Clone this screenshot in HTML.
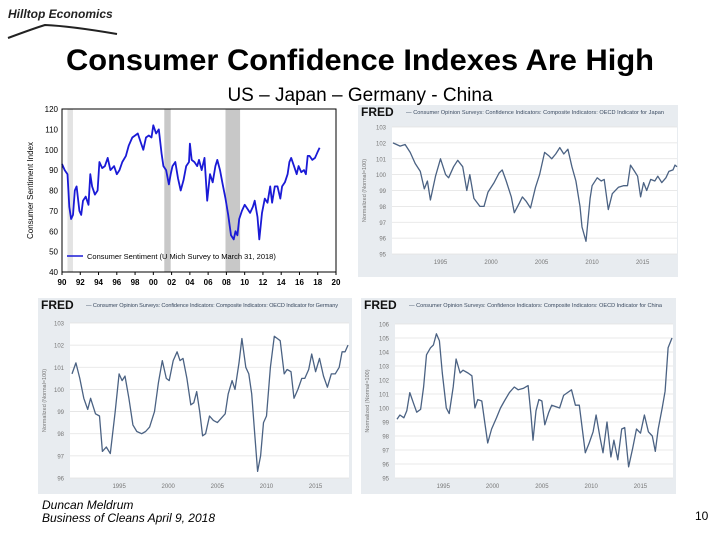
<!DOCTYPE html>
<html><head><meta charset="utf-8"><style>
body{margin:0;width:720px;height:540px;background:#fff;overflow:hidden;font-family:"Liberation Sans",sans-serif}
svg{position:absolute;left:0;top:0}
</style></head><body>
<svg id="s" width="720" height="540" viewBox="0 0 720 540">
<text x="8" y="18" font-size="12" font-weight="bold" font-style="italic" fill="#222">Hilltop Economics</text>
<path d="M8 38 Q35 28 45 25 Q70 26 117 34" stroke="#222" stroke-width="2" fill="none"/>
<text x="360" y="70" font-size="30" font-weight="bold" text-anchor="middle" fill="#000" textLength="588" lengthAdjust="spacingAndGlyphs">Consumer Confidence Indexes Are High</text>
<text x="360" y="101" font-size="19" text-anchor="middle" fill="#000">US – Japan – Germany - China</text>
<text x="42" y="509" font-size="12" font-style="italic" fill="#000">Duncan Meldrum</text>
<text x="42" y="522" font-size="12" font-style="italic" fill="#000">Business of Cleans April 9, 2018</text>
<text x="695" y="520" font-size="12" fill="#000">10</text>
</svg>
<script>
const usYears=[1990.0,1990.3,1990.6,1990.8,1991.0,1991.2,1991.4,1991.6,1991.9,1992.1,1992.3,1992.6,1992.9,1993.1,1993.3,1993.6,1993.9,1994.1,1994.4,1994.7,1995.0,1995.3,1995.7,1996.0,1996.3,1996.6,1997.0,1997.3,1997.7,1998.0,1998.3,1998.6,1998.9,1999.2,1999.5,1999.8,2000.0,2000.3,2000.6,2000.9,2001.1,2001.4,2001.7,2001.9,2002.1,2002.4,2002.7,2003.0,2003.3,2003.6,2003.9,2004.0,2004.2,2004.5,2004.8,2005.0,2005.3,2005.6,2005.9,2006.2,2006.5,2006.8,2007.0,2007.3,2007.6,2007.9,2008.2,2008.5,2008.8,2009.0,2009.2,2009.4,2009.7,2010.0,2010.3,2010.6,2010.9,2011.1,2011.4,2011.6,2011.9,2012.2,2012.5,2012.8,2013.0,2013.3,2013.6,2013.9,2014.1,2014.4,2014.7,2014.9,2015.1,2015.4,2015.7,2015.9,2016.2,2016.5,2016.7,2016.9,2017.1,2017.4,2017.7,2017.9,2018.0,2018.2];
const usValues=[93,90,88,72,66,68,80,82,70,68,75,77,73,88,82,78,80,94,91,92,96,90,92,88,90,94,97,102,106,107,108,104,100,106,107,106,112,108,110,98,92,90,83,88,92,94,86,80,85,92,94,103,95,94,92,95,90,96,75,88,84,92,95,90,83,76,68,58,56,60,58,66,70,73,71,69,72,75,67,56,69,76,74,82,74,82,82,76,82,84,88,94,96,92,88,92,89,90,88,97,97,95,96,98,99,101];
const usTicksY=[40,50,60,70,80,90,100,110,120];
const usTicksX=["90","92","94","96","98","00","02","04","06","08","10","12","14","16","18","20"];
const recessions=[[1990.6,1991.2],[2001.2,2001.9],[2007.9,2009.5]];

const jpYears=[1990.3,1991,1991.5,1992,1992.5,1993,1993.4,1993.7,1994,1994.5,1995,1995.5,1995.8,1996.3,1996.7,1997.2,1997.6,1997.9,1998.3,1998.9,1999.3,1999.7,2000.3,2000.8,2001.1,2001.5,2002,2002.3,2002.8,2003.1,2003.5,2003.9,2004.4,2004.8,2005.3,2005.7,2006.0,2006.4,2006.8,2007.2,2007.6,2008.0,2008.4,2008.8,2009.0,2009.4,2009.8,2010.0,2010.5,2010.9,2011.2,2011.6,2012.0,2012.6,2013.1,2013.5,2013.8,2014.2,2014.5,2014.8,2015.1,2015.4,2015.8,2016.2,2016.5,2016.9,2017.3,2017.6,2018.0,2018.2,2018.4];
const jpValues=[102.0,101.8,101.9,101.4,100.7,100.2,99.1,99.6,98.4,99.9,101.0,100.0,99.8,100.5,100.9,100.5,99.0,100.0,98.5,98.0,98.0,98.9,99.5,100.1,100.3,99.6,98.6,97.6,98.2,98.6,98.3,97.9,99.2,100.0,101.4,101.2,101.0,101.3,101.7,101.3,101.6,100.5,99.6,98.0,96.7,95.8,98.5,99.3,99.8,99.6,99.7,97.8,98.8,99.2,99.3,99.3,100.6,100.2,99.9,98.6,99.5,99.0,99.7,99.6,99.9,99.5,99.8,100.2,100.3,100.6,100.5];
const jpTicksY=[95,96,97,98,99,100,101,102,103];

const deYears=[1990.2,1990.6,1991,1991.4,1991.8,1992.1,1992.6,1993,1993.3,1993.7,1994.1,1994.6,1995.0,1995.3,1995.6,1996,1996.4,1996.8,1997.3,1997.7,1998.1,1998.6,1999.0,1999.4,1999.8,2000.1,2000.5,2000.9,2001.2,2001.5,2001.9,2002.3,2002.6,2002.9,2003.2,2003.5,2003.8,2004.2,2004.6,2005.0,2005.4,2005.8,2006.1,2006.5,2006.8,2007.2,2007.5,2007.9,2008.2,2008.5,2008.8,2009.1,2009.4,2009.7,2010.0,2010.4,2010.8,2011.1,2011.4,2011.8,2012.1,2012.5,2012.8,2013.2,2013.6,2013.9,2014.3,2014.6,2015.0,2015.4,2015.8,2016.2,2016.6,2017.0,2017.4,2017.7,2018.0,2018.3];
const deValues=[100.7,101.2,100.5,99.6,99.1,99.6,98.9,98.8,97.2,97.4,97.1,99.0,100.7,100.4,100.6,99.6,98.4,98.1,98.0,98.1,98.3,99.0,100.3,101.3,100.5,100.4,101.3,101.7,101.3,101.4,100.5,99.3,99.4,99.9,99.0,97.9,98.0,98.8,98.6,98.5,98.7,98.9,99.8,100.4,100.0,101.2,102.3,101.0,100.7,99.8,98.0,96.3,97.0,98.5,98.8,101.0,102.4,102.3,102.2,100.7,100.9,100.8,99.6,100.0,100.5,100.5,100.9,101.6,100.8,101.4,100.6,100.1,100.7,100.7,101.0,101.7,101.7,102.0];
const deTicksY=[96,97,98,99,100,101,102,103];

const cnYears=[1990.3,1990.6,1991.0,1991.3,1991.6,1992.0,1992.3,1992.7,1993.0,1993.3,1993.7,1994.0,1994.3,1994.6,1994.9,1995.3,1995.6,1996.0,1996.3,1996.7,1997.0,1997.5,1997.9,1998.2,1998.5,1998.9,1999.2,1999.5,1999.9,2000.4,2000.8,2001.2,2001.7,2002.2,2002.6,2003.1,2003.6,2003.9,2004.1,2004.4,2004.7,2005.0,2005.3,2005.7,2006.0,2006.4,2006.8,2007.2,2007.6,2008.0,2008.4,2008.8,2009.1,2009.4,2009.8,2010.2,2010.5,2010.9,2011.2,2011.6,2012.0,2012.3,2012.7,2013.1,2013.4,2013.8,2014.2,2014.6,2015.0,2015.4,2015.8,2016.2,2016.5,2016.8,2017.2,2017.5,2017.8,2018.2];
const cnValues=[99.2,99.5,99.3,99.8,101.1,100.3,99.7,99.9,101.5,103.8,104.3,104.5,105.3,104.8,102.5,100.0,99.6,101.5,103.5,102.5,102.7,102.5,102.3,100.0,100.6,100.5,99.0,97.5,98.5,99.3,100.0,100.5,101.1,101.5,101.3,101.4,101.6,99.5,97.7,99.8,100.6,100.5,98.8,99.7,100.2,100.1,100.0,100.9,101.1,101.3,100.2,100.2,98.5,96.8,97.5,98.3,99.5,97.9,96.8,99.0,96.5,97.7,96.3,98.5,98.6,95.8,97.1,98.5,98.2,99.5,98.3,98.0,96.9,98.5,100.0,101.2,104.3,105.0];
const cnTicksY=[95,96,97,98,99,100,101,102,103,104,105,106];
const fredTicksX=[1995,2000,2005,2010,2015];

const NS="http://www.w3.org/2000/svg";
const S=document.getElementById('s');
function mk(tag,attrs,parent){const e=document.createElementNS(NS,tag);for(const k in attrs)e.setAttribute(k,attrs[k]);(parent||S).appendChild(e);return e;}
function pathFrom(xs,ys,fx,fy){return xs.map((x,i)=>(i?'L':'M')+fx(x).toFixed(1)+' '+fy(ys[i]).toFixed(1)).join(' ');}

// US chart
(function(){
 const L=62,R=336,T=109,B=272,x0=1990,x1=2020,y0=40,y1=120;
 const fx=x=>L+(x-x0)/(x1-x0)*(R-L), fy=v=>B-(v-y0)/(y1-y0)*(B-T);
 const g=mk('g',{});
 
 
 const bg=mk('rect',{x:L,y:T,width:R-L,height:B-T,fill:'#fff'},g);
 
 
 recessions.forEach((r,i)=>{const e=mk('rect',{x:fx(r[0]),y:T,width:fx(r[1])-fx(r[0]),height:B-T,fill:i==0?'#e3e3e3':'#c8c8c8'},g);
  
  });
 const ln=mk('path',{d:pathFrom(usYears,usValues,fx,fy),fill:'none',stroke:'#1a1ad6','stroke-width':1.8,'stroke-linejoin':'round'},g);
 
 
 const fr=mk('rect',{x:L,y:T,width:R-L,height:B-T,fill:'none',stroke:'#000','stroke-width':1},g);
 
 
 usTicksY.forEach(v=>{const t=mk('text',{x:L-4,y:fy(v)+3,'font-size':8,'text-anchor':'end',fill:'#000'},g);t.textContent=v;
  
  });
 usTicksX.forEach((s,i)=>{const xv=x0+2*i;const t=mk('text',{x:fx(xv),y:B+13,'font-size':8,'font-weight':'bold','text-anchor':'middle',fill:'#000'},g);t.textContent=s;
  
  
  const tk=mk('line',{x1:fx(xv),x2:fx(xv),y1:B,y2:B+3,stroke:'#000'},g);
  
  });
 const yt=mk('text',{x:0,y:0,'font-size':8,transform:`translate(33,${(T+B)/2}) rotate(-90)`,'text-anchor':'middle',fill:'#000'},g);yt.textContent='Consumer Sentiment Index';
 
 
 const ll=mk('line',{x1:67,x2:83,y1:256,y2:256,stroke:'#1a1ad6','stroke-width':1.5},g);
 
 
 const lt=mk('text',{x:87,y:259,'font-size':7.5,fill:'#000'},g);lt.textContent='Consumer Sentiment (U Mich Survey to March 31, 2018)';
 
 
})();

function fredChart(name,panel,plot,xd,yd,years,vals,ticksY,title){
 const [pL,pT,pR,pB]=panel,[L,T,R,B]=plot;
 const fx=x=>L+(x-xd[0])/(xd[1]-xd[0])*(R-L), fy=v=>B-(v-yd[0])/(yd[1]-yd[0])*(B-T);
 const g=mk('g',{});
 
 
 const pr=mk('rect',{x:pL,y:pT,width:pR-pL,height:pB-pT,fill:'#e8ecf0'},g);
 
 
 const pa=mk('rect',{x:L,y:T,width:R-L,height:B-T,fill:'#fff'},g);
 
 
 ticksY.forEach(v=>{const gl=mk('line',{x1:L,x2:R,y1:fy(v),y2:fy(v),stroke:'#e2e2e2','stroke-width':0.8},g);
  
  
  const t=mk('text',{x:L-6,y:fy(v)+2.5,'font-size':6,'text-anchor':'end',fill:'#777'},g);t.textContent=v;
  
  });
 fredTicksX.forEach(v=>{const t=mk('text',{x:fx(v),y:B+10,'font-size':6,'text-anchor':'middle',fill:'#777'},g);t.textContent=v;
  
  });
 const ln=mk('path',{d:pathFrom(years,vals,fx,fy),fill:'none',stroke:'#4b6283','stroke-width':1.3,'stroke-linejoin':'round'},g);
 
 
 const fl=mk('text',{x:pL+3,y:pT+11,'font-size':12,'font-weight':'bold',fill:'#111'},g);fl.textContent='FRED';
 
 
 const ti=mk('text',{x:pL+48,y:pT+9,'font-size':5.6,fill:'#3a4a60',textLength:pR-pL-62},g);ti.textContent='— '+title;
 
 
 const yt=mk('text',{x:0,y:0,'font-size':5.5,transform:`translate(${pL+8},${(T+B)/2}) rotate(-90)`,'text-anchor':'middle',fill:'#777'},g);yt.textContent='Normalized (Normal=100)';
 
 
}
fredChart('japan',[358,105,678,277],[392,127,677,254],[1990.2,2018.4],[95,103],jpYears,jpValues,jpTicksY,'Consumer Opinion Surveys: Confidence Indicators: Composite Indicators: OECD Indicator for Japan');
fredChart('germany',[38,298,352,494],[70,323,349,478],[1990.0,2018.4],[96,103],deYears,deValues,deTicksY,'Consumer Opinion Surveys: Confidence Indicators: Composite Indicators: OECD Indicator for Germany');
fredChart('china',[361,298,676,494],[395,324,673,478],[1990.1,2018.3],[95,106],cnYears,cnValues,cnTicksY,'Consumer Opinion Surveys: Confidence Indicators: Composite Indicators: OECD Indicator for China');
</script>
</body></html>
